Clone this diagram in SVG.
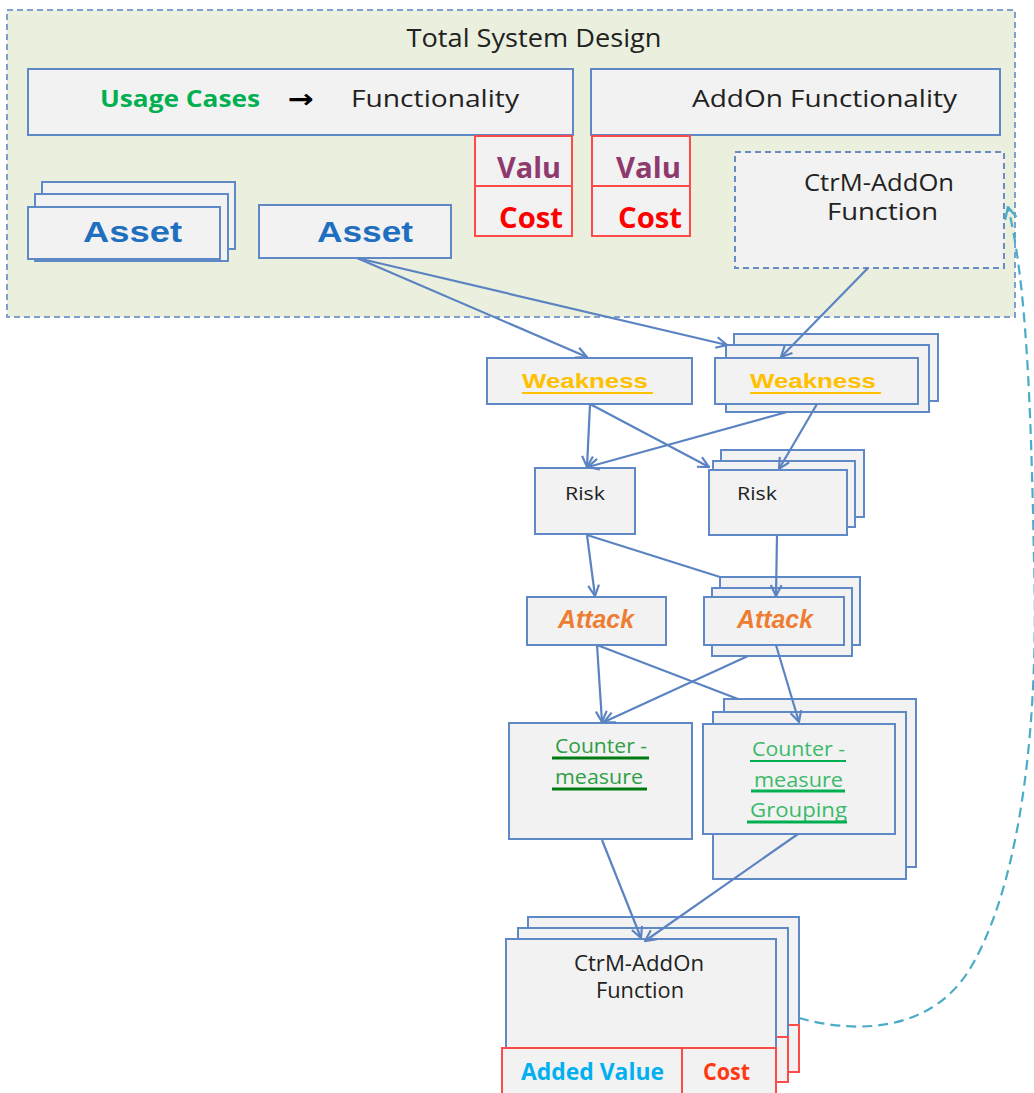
<svg xmlns="http://www.w3.org/2000/svg" width="1034" height="1093" viewBox="0 0 1034 1093">
  <style>
    .box { fill: #f2f2f2; stroke: #5f89c6; stroke-width: 2; }
    .dbox { fill: #f2f2f2; stroke: #6a8cc4; stroke-width: 2; stroke-dasharray: 6 4; }
    .red { fill: #f2f2f2; stroke: #ff4a4a; stroke-width: 2; }
    .link { fill: none; stroke: #5b83c2; stroke-width: 2.2; }
    .cal { font-family: "Open Sans", "Liberation Sans", sans-serif; }
    .ari { font-family: "Liberation Sans", Arial, sans-serif; }
    .dark { fill: #222222; }
    .ul { stroke-width: 2; }
  </style>
  <defs>
    <marker id="arr" viewBox="0 0 12 12" refX="11" refY="6" markerWidth="13" markerHeight="13" markerUnits="userSpaceOnUse" orient="auto">
      <path d="M1,1 L11,6 L1,11" fill="none" stroke="#5b83c2" stroke-width="2"/>
    </marker>
    <marker id="arrTeal" viewBox="0 0 12 12" refX="11" refY="6" markerWidth="14" markerHeight="14" markerUnits="userSpaceOnUse" orient="auto">
      <path d="M1,1 L11,6 L1,11" fill="none" stroke="#4bacc6" stroke-width="2"/>
    </marker>
  </defs>

  <!-- system design area -->
  <g id="total-system-design">
    <rect x="7" y="10" width="1008" height="307" fill="#ebf0de" stroke="#7f9fcf" stroke-width="2" stroke-dasharray="6 4"/>
    <text class="cal dark" x="534" y="47" font-size="26" text-anchor="middle" textLength="255" lengthAdjust="spacingAndGlyphs">Total System Design</text>
  </g>

  <g id="usage-functionality">
    <rect class="box" x="28" y="69" width="545" height="66"/>
    <text class="cal" x="100" y="107" font-size="24" font-weight="bold" fill="#00b050" textLength="160" lengthAdjust="spacingAndGlyphs">Usage Cases</text>
    <text x="288" y="108" font-family="DejaVu Sans, sans-serif" font-size="26" font-weight="bold" fill="#000" textLength="26" lengthAdjust="spacingAndGlyphs">→</text>
    <text class="cal dark" x="351" y="107" font-size="24" textLength="168" lengthAdjust="spacingAndGlyphs">Functionality</text>
  </g>

  <g id="addon-functionality">
    <rect class="box" x="591" y="69" width="409" height="66"/>
    <text class="cal dark" x="692" y="107" font-size="24" textLength="265" lengthAdjust="spacingAndGlyphs">AddOn Functionality</text>
  </g>

  <g id="value-cost-1">
    <rect class="red" x="475" y="136" width="97" height="50"/>
    <rect class="red" x="475" y="186" width="97" height="50"/>
    <text class="cal" x="497" y="178" font-size="28" font-weight="bold" fill="#8e3a6e" textLength="64" lengthAdjust="spacingAndGlyphs">Valu</text>
    <text class="cal" x="499" y="228" font-size="28" font-weight="bold" fill="#ff0000" textLength="64" lengthAdjust="spacingAndGlyphs">Cost</text>
  </g>

  <g id="value-cost-2">
    <rect class="red" x="592" y="136" width="98" height="50"/>
    <rect class="red" x="592" y="186" width="98" height="50"/>
    <text class="cal" x="616" y="178" font-size="28" font-weight="bold" fill="#8e3a6e" textLength="65" lengthAdjust="spacingAndGlyphs">Valu</text>
    <text class="cal" x="618" y="228" font-size="28" font-weight="bold" fill="#ff0000" textLength="64" lengthAdjust="spacingAndGlyphs">Cost</text>
  </g>

  <g id="ctrm-addon-planned">
    <rect class="dbox" x="735" y="152" width="269" height="116"/>
    <text class="cal dark" x="804" y="191" font-size="23" textLength="150" lengthAdjust="spacingAndGlyphs">CtrM-AddOn</text>
    <text class="cal dark" x="827" y="220" font-size="23" textLength="111" lengthAdjust="spacingAndGlyphs">Function</text>
  </g>

  <g id="asset-stack">
    <rect class="box" x="42" y="182" width="193" height="67"/>
    <rect class="box" x="35" y="194" width="193" height="67"/>
    <rect class="box" x="28" y="207" width="192" height="52"/>
    <text class="ari" x="83" y="242" font-size="30" font-weight="bold" fill="#1f6fc0" textLength="99" lengthAdjust="spacingAndGlyphs">Asset</text>
  </g>

  <g id="asset">
    <rect class="box" x="259" y="205" width="192" height="53"/>
    <text class="ari" x="317" y="242" font-size="30" font-weight="bold" fill="#1f6fc0" textLength="96" lengthAdjust="spacingAndGlyphs">Asset</text>
  </g>

  <!-- weakness level -->
  <g id="weakness">
    <rect class="box" x="487" y="358" width="205" height="46"/>
    <text class="ari" x="522" y="388" font-size="21" font-weight="bold" fill="#ffc000" textLength="126" lengthAdjust="spacingAndGlyphs">Weakness</text>
    <line x1="522" y1="393" x2="653" y2="393" stroke="#ffc000" class="ul"/>
  </g>

  <g id="weakness-stack">
    <rect class="box" x="734" y="334" width="204" height="67"/>
    <rect class="box" x="726" y="345" width="203" height="67"/>
    <rect class="box" x="715" y="358" width="203" height="46"/>
    <text class="ari" x="750" y="388" font-size="21" font-weight="bold" fill="#ffc000" textLength="126" lengthAdjust="spacingAndGlyphs">Weakness</text>
    <line x1="750" y1="393" x2="881" y2="393" stroke="#ffc000" class="ul"/>
  </g>

  <!-- risk level -->
  <g id="risk">
    <rect class="box" x="535" y="468" width="100" height="66"/>
    <text class="cal dark" x="565" y="500" font-size="19" textLength="40" lengthAdjust="spacingAndGlyphs">Risk</text>
  </g>

  <g id="risk-stack">
    <rect class="box" x="721" y="450" width="143" height="67"/>
    <rect class="box" x="713" y="461" width="142" height="66"/>
    <rect class="box" x="709" y="470" width="138" height="65"/>
    <text class="cal dark" x="737" y="500" font-size="19" textLength="40" lengthAdjust="spacingAndGlyphs">Risk</text>
  </g>

  <!-- attack level -->
  <g id="attack">
    <rect class="box" x="527" y="597" width="139" height="48"/>
    <text class="ari" x="558" y="628" font-size="25" font-weight="bold" font-style="italic" fill="#ed7d31" textLength="76" lengthAdjust="spacingAndGlyphs">Attack</text>
  </g>

  <g id="attack-stack">
    <rect class="box" x="720" y="577" width="140" height="68"/>
    <rect class="box" x="712" y="588" width="140" height="68"/>
    <rect class="box" x="704" y="597" width="140" height="48"/>
    <text class="ari" x="737" y="628" font-size="25" font-weight="bold" font-style="italic" fill="#ed7d31" textLength="76" lengthAdjust="spacingAndGlyphs">Attack</text>
  </g>

  <!-- countermeasure level -->
  <g id="countermeasure">
    <rect class="box" x="509" y="723" width="183" height="116"/>
    <text class="cal" x="555" y="753" font-size="20" fill="#2f9e44" textLength="92" lengthAdjust="spacingAndGlyphs">Counter -</text>
    <line x1="552" y1="758" x2="649" y2="758" stroke="#007a10" stroke-width="3"/>
    <text class="cal" x="555" y="784" font-size="20" fill="#2f9e44" textLength="88" lengthAdjust="spacingAndGlyphs">measure</text>
    <line x1="552" y1="789" x2="647" y2="789" stroke="#007a10" stroke-width="3"/>
  </g>

  <g id="countermeasure-grouping">
    <rect class="box" x="724" y="699" width="192" height="168"/>
    <rect class="box" x="713" y="712" width="193" height="167"/>
    <rect class="box" x="703" y="724" width="192" height="110"/>
    <text class="cal" x="752" y="756" font-size="20" fill="#3cba6a" textLength="93" lengthAdjust="spacingAndGlyphs">Counter -</text>
    <line x1="750" y1="761" x2="846" y2="761" stroke="#00b050" stroke-width="2"/>
    <text class="cal" x="754" y="787" font-size="20" fill="#3cba6a" textLength="89" lengthAdjust="spacingAndGlyphs">measure</text>
    <line x1="751" y1="791" x2="845" y2="791" stroke="#00b050" stroke-width="3"/>
    <text class="cal" x="750" y="817" font-size="20" fill="#3cba6a" textLength="97" lengthAdjust="spacingAndGlyphs">Grouping</text>
    <line x1="747" y1="822" x2="847" y2="822" stroke="#00b050" stroke-width="3"/>
  </g>

  <!-- resulting add-on functions -->
  <g id="ctrm-addon-stack">
    <rect class="box" x="528" y="917" width="271" height="108"/>
    <rect class="red" x="528" y="1025" width="271" height="47"/>
    <rect class="box" x="518" y="928" width="270" height="109"/>
    <rect class="red" x="518" y="1037" width="270" height="45"/>
    <rect class="box" x="506" y="939" width="270" height="109"/>
    <rect class="red" x="502" y="1048" width="180" height="48"/>
    <rect class="red" x="682" y="1048" width="94" height="48"/>
    <text class="cal dark" x="574" y="971" font-size="21" textLength="130" lengthAdjust="spacingAndGlyphs">CtrM-AddOn</text>
    <text class="cal dark" x="596" y="998" font-size="21" textLength="88" lengthAdjust="spacingAndGlyphs">Function</text>
    <text class="cal" x="521" y="1080" font-size="24" font-weight="bold" fill="#00b0f0" textLength="143" lengthAdjust="spacingAndGlyphs">Added Value</text>
    <text class="cal" x="703" y="1080" font-size="24" font-weight="bold" fill="#ff3a12" textLength="47" lengthAdjust="spacingAndGlyphs">Cost</text>
  </g>

  <!-- connectors -->
  <g id="connectors">
    <line class="link" x1="357" y1="258" x2="587" y2="357" marker-end="url(#arr)"/>
    <line class="link" x1="357" y1="258" x2="727" y2="345" marker-end="url(#arr)"/>
    <line class="link" x1="868" y1="268" x2="781" y2="357" marker-end="url(#arr)"/>
    <line class="link" x1="590" y1="404" x2="587" y2="467" marker-end="url(#arr)"/>
    <line class="link" x1="590" y1="404" x2="709" y2="467" marker-end="url(#arr)"/>
    <line class="link" x1="787" y1="412" x2="588" y2="467" marker-end="url(#arr)"/>
    <line class="link" x1="817" y1="404" x2="779" y2="469" marker-end="url(#arr)"/>
    <line class="link" x1="587" y1="535" x2="595" y2="596" marker-end="url(#arr)"/>
    <line class="link" x1="587" y1="535" x2="720" y2="577"/>
    <line class="link" x1="777" y1="535" x2="776" y2="596" marker-end="url(#arr)"/>
    <line class="link" x1="597" y1="645" x2="602" y2="722" marker-end="url(#arr)"/>
    <line class="link" x1="597" y1="645" x2="738" y2="699"/>
    <line class="link" x1="748" y1="656" x2="604" y2="722" marker-end="url(#arr)"/>
    <line class="link" x1="776" y1="645" x2="799" y2="722" marker-end="url(#arr)"/>
    <line class="link" x1="602" y1="840" x2="641" y2="938" marker-end="url(#arr)"/>
    <line class="link" x1="798" y1="834" x2="645" y2="941" marker-end="url(#arr)"/>
    <path d="M 799 1018 C 860 1035, 930 1030, 968 972 C 1012 902, 1040 760, 1034 560 C 1031 400, 1026 280, 1008 207" fill="none" stroke="#4bacc6" stroke-width="2.2" stroke-dasharray="10 6" marker-end="url(#arrTeal)"/>
  </g>
</svg>
